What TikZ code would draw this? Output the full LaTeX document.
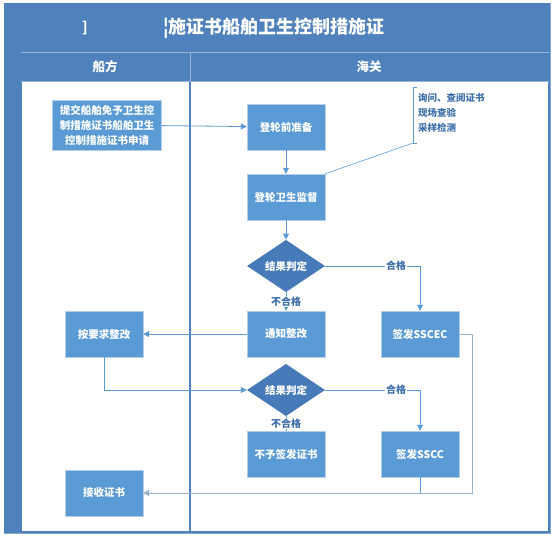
\documentclass[tikz,border=0pt]{standalone}
\usepackage{fontspec}
\setmainfont{Noto Sans CJK SC}
\usetikzlibrary{shapes.geometric,arrows.meta}

\definecolor{poolblue}{HTML}{4F81BD}
\definecolor{boxblue}{HTML}{5B9BD5}
\definecolor{boxedge}{HTML}{B4CDE9}
\definecolor{diablue}{HTML}{467AB8}
\definecolor{labelblue}{HTML}{3D6FA8}

\begin{document}
\begin{tikzpicture}[x=1pt,y=-1pt,
		stepbox/.style={draw=boxedge, fill=boxblue, minimum width=78pt, minimum height=46pt,
			text=white, font=\fontsize{10.5}{15}\selectfont\bfseries, align=center, inner sep=1pt},
		decision/.style={diamond, fill=diablue, minimum width=78pt, minimum height=52pt,
			text=white, font=\fontsize{10.5}{13}\selectfont\bfseries, inner sep=0pt},
		link/.style={boxblue, line width=0.8pt},
		arrowlink/.style={link, -{Triangle[width=6pt,length=6pt]}},
		passlabel/.style={fill=white, text=labelblue, font=\fontsize{10}{12}\selectfont\bfseries, inner sep=1pt},
		lanehead/.style={text=white, font=\fontsize{12.5}{14}\selectfont\bfseries}]

		\useasboundingbox (0,0) rectangle (554,540);

		% pool and lanes
		\draw [poolblue!70, fill=white]	(4,3) rectangle (550,533);
		\fill [poolblue]				(4,3) rectangle (550,52);
		\fill [poolblue]				(4,52) rectangle (21,533);
		\fill [poolblue]				(21,52) rectangle (549,81);
		\draw [poolblue, line width=1.2pt]	(21,52) rectangle (549,532);
		\draw [poolblue, line width=1.2pt]	(190,52) -- (190,532);
		\draw [poolblue!60!white]		(21,81) -- (549,81);
		\draw [poolblue!60!white]		(190,52) -- (190,81);
		\draw [poolblue!60!white]		(21,52) -- (549,52);

		\node [text=white, font=\fontsize{14}{16}\selectfont\bfseries] (mark) at (85,28) {]};
		\node [text=white, font=\fontsize{18}{20}\selectfont\bfseries] (title) at (274,28) {¦施证书船舶卫生控制措施证};
		\node [lanehead] (ship) at (105,67) {船方};
		\node [lanehead] (customs) at (369,67) {海关};

		% steps
		\node [stepbox, minimum width=109pt, minimum height=50pt] (apply) at (107,125)
			{提交船舶免予卫生控\\制措施证书船舶卫生\\控制措施证书申请};
		\node [stepbox] (prep) at (286,127) {登轮前准备};
		\node [stepbox] (check) at (286,197) {登轮卫生监督};
		\node [decision] (judge) at (286,266) {结果判定};
		\node [stepbox] (notice) at (286,334) {通知整改};
		\node [stepbox] (sscec) at (420,334) {签发SSCEC};
		\node [stepbox] (fix) at (104,334) {按要求整改};
		\node [decision] (rejudge) at (286,390) {结果判定};
		\node [stepbox] (refuse) at (286,454) {不予签发证书};
		\node [stepbox] (sscc) at (420,454) {签发SSCC};
		\node [stepbox] (receive) at (104,493) {接收证书};

		% inspection note
		\coordinate (brk) at (413,143);
		\draw [link, line width=0.6pt]	(417,87) -- (413,87) -- (brk) -- (417,143);
		\draw [link, line width=0.6pt]	(check.north east) -- (brk);
		\node [anchor=north west, align=left, text=labelblue, inner sep=0pt,
			font=\fontsize{9.5}{15}\selectfont\bfseries] (note) at (418,93)
			{询问、查阅证书\\现场查验\\采样检测};

		% flow
		\draw [arrowlink]	(apply) -- (prep);
		\draw [arrowlink]	(prep) -- (check);
		\draw [arrowlink]	(check) -- (judge);
		\draw [arrowlink]	(judge.east) -| (sscec.north)
			node [passlabel, pos=0.5, xshift=-24pt] {合格};
		\draw [arrowlink]	(judge.south) -- (notice.north)
			node [passlabel, midway] {不合格};
		\draw [arrowlink]	(notice) -- (fix);
		\draw [arrowlink]	(fix.south) |- (rejudge.west);
		\draw [arrowlink]	(rejudge.east) -| (sscc.north)
			node [passlabel, pos=0.5, xshift=-24pt] {合格};
		\draw [link]		(rejudge.south) -- (refuse.north)
			node [passlabel, midway] {不合格};
		\draw [arrowlink, boxblue!60!gray!70]	(sscec.east) -- ++(13,0) |- (receive.east);
		\draw [link]		(sscc.south) -- (sscc.south |- receive.east);
	\end{tikzpicture}
\end{document}
